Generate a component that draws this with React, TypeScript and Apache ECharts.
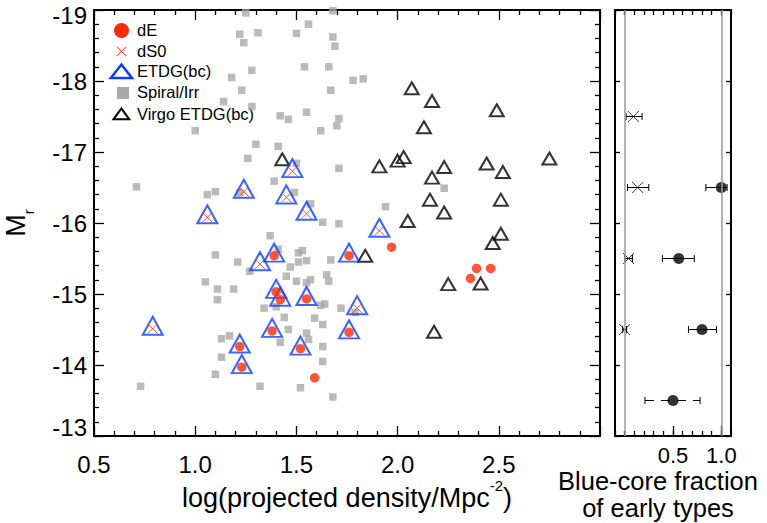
import React, { useEffect, useRef } from 'react';
import * as echarts from 'echarts';

// ---------- data ----------
const spiralX = [1.25, 1.68, 1.22, 1.31, 1.24, 1.50, 1.56, 1.68, 1.69, 1.28, 1.18, 1.54, 1.66, 1.78, 1.83, 1.23, 1.67, 1.14, 1.28, 1.42, 1.46, 1.55, 1.71, 1.70, 1.00, 1.62, 1.30, 1.41, 1.26, 1.50, 1.71, 0.71, 1.06, 1.10, 1.22, 1.39, 1.49, 2.23, 1.57, 1.94, 1.63, 1.71, 1.37, 1.10, 1.21, 1.41, 1.51, 1.53, 1.55, 1.51, 1.47, 1.67, 1.27, 1.45, 1.05, 1.11, 1.19, 1.50, 1.55, 1.57, 1.65, 1.66, 1.11, 1.34, 1.40, 1.62, 1.64, 1.72, 1.79, 1.44, 1.59, 1.63, 1.46, 1.42, 1.55, 1.56, 1.13, 1.17, 1.63, 1.13, 1.63, 1.10, 1.32, 1.52, 1.68, 0.73];
const spiralY = [-18.96, -18.99, -18.66, -18.68, -18.54, -18.67, -18.80, -18.62, -18.49, -18.15, -18.05, -18.20, -18.20, -18.01, -18.03, -17.87, -17.87, -17.71, -17.64, -17.51, -17.46, -17.56, -17.47, -17.37, -17.30, -17.30, -17.11, -17.08, -16.91, -16.84, -16.77, -16.51, -16.40, -16.44, -16.43, -16.59, -16.43, -16.49, -16.27, -16.23, -16.01, -15.99, -15.82, -15.55, -15.45, -15.63, -15.58, -15.61, -15.47, -15.45, -15.38, -15.48, -15.32, -15.25, -15.17, -15.07, -15.07, -15.18, -15.16, -15.20, -15.27, -15.18, -14.92, -14.80, -14.82, -14.84, -14.86, -14.80, -14.74, -14.67, -14.66, -14.57, -14.50, -14.32, -14.45, -14.36, -14.37, -14.41, -14.26, -14.11, -14.05, -13.87, -13.70, -13.68, -13.55, -13.70];

const virgoX = [2.07, 2.17, 2.49, 2.13, 1.43, 1.91, 2.00, 2.03, 2.23, 2.44, 2.75, 2.52, 2.17, 2.16, 2.23, 2.51, 2.51, 2.47, 2.05, 1.84, 2.25, 2.41, 2.18];
const virgoY = [-17.87, -17.69, -17.56, -17.32, -16.87, -16.77, -16.85, -16.90, -16.76, -16.81, -16.88, -16.69, -16.61, -16.30, -16.12, -16.30, -15.82, -15.69, -16.00, -15.51, -15.11, -15.12, -14.44];

const dS0X = [1.48, 1.24, 1.45, 1.55, 1.06, 1.32, 0.79, 1.91, 1.80];
const dS0Y = [-16.73, -16.44, -16.36, -16.13, -16.08, -15.42, -14.51, -15.89, -14.80];
const dS0BlueCore = [1, 1, 1, 1, 1, 1, 1, 1, 1];

const dEX = [1.39, 1.76, 1.40, 1.42, 1.55, 1.38, 1.76, 1.22, 1.52, 1.23, 1.97, 1.59, 2.39, 2.46, 2.36];
const dEY = [-15.54, -15.54, -15.03, -14.92, -14.93, -14.48, -14.46, -14.26, -14.23, -13.97, -15.66, -13.82, -15.36, -15.36, -15.22];
const dEBlueCore = [1, 1, 1, 1, 1, 1, 1, 1, 1, 1, 0, 0, 0, 0, 0];

// right panel: blue-core fraction per magnitude bin
const binMag = [-17.5, -16.5, -15.5, -14.5, -13.5];
const crossFrac = [0.09, 0.135, 0.04, 0.0, null];
const crossLo = [0.015, 0.03, 0.0, -0.02, null];
const crossHi = [0.18, 0.25, 0.08, 0.02, null];
const circFrac = [null, 1.0, 0.56, 0.8, 0.5];
const circLo = [null, 0.84, 0.39, 0.66, 0.21];
const circHi = [null, 1.06, 0.72, 0.95, 0.78];
const circDashed = [0, 0, 0, 0, 1];

const xTicksLeft = [0.5, 1.0, 1.5, 2.0, 2.5];
const xTicksRight = [0.5, 1.0];

// ---------- style ----------
const FONT = 'Liberation Sans, Arial, Helvetica, sans-serif';
const RED = '#ff2a0c';
const BLUE = '#0a3cff';
const GRAY = '#a9a9a9';
const XPATH = 'path://M0,0L10,10M10,0L0,10';

const zip = (xs: number[], ys: number[]) => xs.map((x, i) => [x, ys[i]]);

export default function App() {
  const ref = useRef<HTMLDivElement>(null);
  useEffect(() => {
    if (!ref.current) return;
    const chart = echarts.init(ref.current, null, { renderer: 'svg' });

    const etdg: number[][] = [];
    dEX.forEach((x, i) => { if (dEBlueCore[i]) etdg.push([x, dEY[i]]); });
    dS0X.forEach((x, i) => { if (dS0BlueCore[i]) etdg.push([x, dS0Y[i]]); });

    const errRows: any[] = [];
    binMag.forEach((m, i) => {
      if (crossFrac[i] !== null) errRows.push([crossLo[i], crossHi[i], m, 0]);
      if (circFrac[i] !== null) errRows.push([circLo[i], circHi[i], m, circDashed[i]]);
    });
    const crossPts: number[][] = [];
    const circPts: number[][] = [];
    binMag.forEach((m, i) => {
      if (crossFrac[i] !== null) crossPts.push([crossFrac[i] as number, m]);
      if (circFrac[i] !== null) circPts.push([circFrac[i] as number, m]);
    });

    const axLine = { show: true, onZero: false, lineStyle: { color: '#000', width: 2 } };
    const tickStyle = { color: '#000', width: 1.3 };

    const yBase = {
      type: 'value', min: -19, max: -13, interval: 1, inverse: true,
      axisLine: axLine, splitLine: { show: false },
    };

    const option: any = {
      animation: false,
      textStyle: { fontFamily: FONT, color: '#000' },
      grid: [
        { left: 94, top: 10, width: 506, height: 426, outerBoundsMode: 'none', containLabel: false },
        { left: 615, top: 10, width: 116, height: 426, outerBoundsMode: 'none', containLabel: false },
      ],
      xAxis: [
        {
          gridIndex: 0, type: 'value', position: 'bottom', min: 0.5, max: 3.0, interval: 0.5,
          axisLine: axLine, splitLine: { show: false },
          axisTick: { inside: true, length: 10, lineStyle: tickStyle },
          minorTick: { show: true, splitNumber: 5, length: 5, lineStyle: tickStyle },
          axisLabel: {
            fontSize: 24, color: '#000', margin: 16, fontFamily: FONT,
            formatter: (v: number) => (xTicksLeft.some((t) => Math.abs(t - v) < 1e-6) ? v.toFixed(1) : ''),
          },
          name: '{a|log(projected density/Mpc}{b|-2}{a|)}',
          nameLocation: 'middle', nameGap: 42, nameMoveOverlap: false,
          nameTextStyle: {
            verticalAlign: 'top',
            rich: {
              a: { fontSize: 27, fontFamily: FONT, color: '#000', verticalAlign: 'top', padding: [6, 0, 0, 0] },
              b: { fontSize: 15, fontFamily: FONT, color: '#000', verticalAlign: 'top' },
            },
          },
        },
        {
          gridIndex: 0, type: 'value', position: 'top', min: 0.5, max: 3.0, interval: 0.5,
          axisLine: axLine, splitLine: { show: false },
          axisTick: { inside: true, length: 10, lineStyle: tickStyle },
          minorTick: { show: true, splitNumber: 5, length: 5, lineStyle: tickStyle },
          axisLabel: { show: false },
        },
        {
          gridIndex: 1, type: 'value', position: 'bottom', min: -0.1, max: 1.1, interval: 0.1,
          axisLine: axLine, splitLine: { show: false },
          axisTick: { inside: true, length: 5, lineStyle: tickStyle },
          axisLabel: {
            fontSize: 22, color: '#000', margin: 8, fontFamily: FONT,
            formatter: (v: number) => (xTicksRight.some((t) => Math.abs(t - v) < 1e-6) ? v.toFixed(1) : ''),
          },
          name: 'Blue-core fraction\nof early types',
          nameLocation: 'middle', nameGap: 31, nameMoveOverlap: false,
          nameTextStyle: { fontSize: 25.5, lineHeight: 27, fontFamily: FONT, color: '#000', align: 'center', verticalAlign: 'top', padding: [0, 30, 0, 0] },
        },
        {
          gridIndex: 1, type: 'value', position: 'top', min: -0.1, max: 1.1, interval: 0.1,
          axisLine: axLine, splitLine: { show: false },
          axisTick: { inside: true, length: 5, lineStyle: tickStyle },
          axisLabel: { show: false },
        },
        {
          gridIndex: 1, type: 'value', position: 'bottom', min: -0.1, max: 1.1,
          axisLine: { show: false, onZero: false }, splitLine: { show: false },
          axisTick: { inside: true, length: 10, lineStyle: tickStyle, customValues: xTicksRight },
          axisLabel: { show: false },
        },
      ],
      yAxis: [
        {
          ...yBase, gridIndex: 0, position: 'left',
          axisTick: { inside: true, length: 10, lineStyle: tickStyle },
          minorTick: { show: true, splitNumber: 5, length: 5, lineStyle: tickStyle },
          axisLabel: {
            fontSize: 24, color: '#000', margin: 7, fontFamily: FONT,
            formatter: (v: number) => (v <= -19 ? '{top|' + v + '}' : v >= -13 ? '{bot|' + v + '}' : String(v)),
            rich: {
              top: { fontSize: 24, fontFamily: FONT, color: '#000', padding: [10, 0, 0, 0] },
              bot: { fontSize: 24, fontFamily: FONT, color: '#000', padding: [0, 0, 18, 0] },
            },
          },
          name: '{m|M}{s|r}', nameLocation: 'middle', nameRotate: 90, nameGap: 58,
          nameTextStyle: {
            rich: {
              m: { fontSize: 27, fontFamily: FONT, color: '#000', verticalAlign: 'bottom', padding: [0, 0, 7, 0] },
              s: { fontSize: 15, fontFamily: FONT, color: '#000', verticalAlign: 'bottom' },
            },
          },
        },
        {
          ...yBase, gridIndex: 0, position: 'right',
          axisTick: { inside: true, length: 10, lineStyle: tickStyle },
          minorTick: { show: true, splitNumber: 5, length: 5, lineStyle: tickStyle },
          axisLabel: { show: false },
        },
        {
          ...yBase, gridIndex: 1, position: 'left',
          axisTick: { inside: true, length: 5, lineStyle: tickStyle },
          axisLabel: { show: false },
        },
        {
          ...yBase, gridIndex: 1, position: 'right',
          axisTick: { inside: true, length: 5, lineStyle: tickStyle },
          axisLabel: { show: false },
        },
      ],
      series: [
        {
          name: 'Spiral/Irr', type: 'scatter', xAxisIndex: 0, yAxisIndex: 0, z: 1,
          symbol: 'rect', symbolSize: 7.5, itemStyle: { color: GRAY },
          data: zip(spiralX, spiralY),
        },
        {
          name: 'Virgo ETDG(bc)', type: 'scatter', xAxisIndex: 0, yAxisIndex: 0, z: 2,
          symbol: 'triangle', symbolSize: [14, 12], symbolOffset: [0, -2],
          itemStyle: { color: 'transparent', borderColor: '#000', borderWidth: 2 },
          data: zip(virgoX, virgoY),
        },
        {
          name: 'ETDG(bc)', type: 'scatter', xAxisIndex: 0, yAxisIndex: 0, z: 3,
          symbol: 'triangle', symbolSize: [20, 18], symbolOffset: [0, -3],
          itemStyle: { color: 'transparent', borderColor: BLUE, borderWidth: 2 },
          data: etdg,
        },
        {
          name: 'dE', type: 'scatter', xAxisIndex: 0, yAxisIndex: 0, z: 4,
          symbol: 'circle', symbolSize: 9.5, itemStyle: { color: RED },
          data: zip(dEX, dEY),
        },
        {
          name: 'dS0', type: 'scatter', xAxisIndex: 0, yAxisIndex: 0, z: 5,
          symbol: XPATH, symbolSize: 10,
          itemStyle: { color: 'transparent', borderColor: RED, borderWidth: 1 },
          data: zip(dS0X, dS0Y),
        },
        {
          name: 'errors', type: 'custom', xAxisIndex: 2, yAxisIndex: 2, z: 3,
          encode: { x: [0, 1], y: 2 },
          renderItem: (params: any, api: any) => {
            const lo = api.coord([api.value(0), api.value(2)]);
            const hi = api.coord([api.value(1), api.value(2)]);
            const dashed = api.value(3) === 1;
            const cap = { stroke: '#000', lineWidth: 1 };
            return {
              type: 'group',
              children: [
                { type: 'line', shape: { x1: lo[0], y1: lo[1], x2: hi[0], y2: hi[1] }, style: { stroke: '#000', lineWidth: 1, lineDash: dashed ? [9, 7] : null } },
                { type: 'line', shape: { x1: lo[0], y1: lo[1] - 3.5, x2: lo[0], y2: lo[1] + 3.5 }, style: cap },
                { type: 'line', shape: { x1: hi[0], y1: hi[1] - 3.5, x2: hi[0], y2: hi[1] + 3.5 }, style: cap },
              ],
            };
          },
          data: errRows,
        },
        {
          name: 'fracCross', type: 'scatter', xAxisIndex: 2, yAxisIndex: 2, z: 4,
          symbol: XPATH, symbolSize: 11,
          itemStyle: { color: 'transparent', borderColor: '#000', borderWidth: 1 },
          data: crossPts,
        },
        {
          name: 'fracCircle', type: 'scatter', xAxisIndex: 2, yAxisIndex: 2, z: 4,
          symbol: 'circle', symbolSize: 11, itemStyle: { color: '#000' },
          data: circPts,
          markLine: {
            silent: true, symbol: 'none', label: { show: false },
            lineStyle: { color: '#9a9a9a', width: 1.5, type: 'solid' },
            data: [{ xAxis: 0 }, { xAxis: 1 }],
          },
        },
      ],
      graphic: [
        { type: 'circle', shape: { cx: 121.5, cy: 30.5, r: 7.5 }, style: { fill: RED } },
        { type: 'line', shape: { x1: 116.8, y1: 46.6, x2: 126.2, y2: 56 }, style: { stroke: RED, lineWidth: 1 } },
        { type: 'line', shape: { x1: 126.2, y1: 46.6, x2: 116.8, y2: 56 }, style: { stroke: RED, lineWidth: 1 } },
        { type: 'polygon', shape: { points: [[110.8, 78], [132, 78], [121.4, 64.5]] }, style: { fill: 'none', stroke: BLUE, lineWidth: 2.5 } },
        { type: 'rect', shape: { x: 117, y: 87, width: 12, height: 12 }, style: { fill: GRAY } },
        { type: 'polygon', shape: { points: [[113.5, 119.3], [129.3, 119.3], [121.4, 108.5]] }, style: { fill: 'none', stroke: '#000', lineWidth: 2 } },
        ...['dE', 'dS0', 'ETDG(bc)', 'Spiral/Irr', 'Virgo ETDG(bc)'].map((t, i) => ({
          type: 'text', x: 137, y: [29.5, 50.5, 71.3, 92.3, 113.7][i],
          style: { text: t, fontSize: 16.5, fontFamily: FONT, fill: '#000', textVerticalAlign: 'middle', verticalAlign: 'middle' },
        })),
      ],
    };

    chart.setOption(option);
    return () => chart.dispose();
  }, []);

  return <div ref={ref} style={{ position: 'absolute', left: 0, top: 0, width: 767, height: 523 }} />;
}
